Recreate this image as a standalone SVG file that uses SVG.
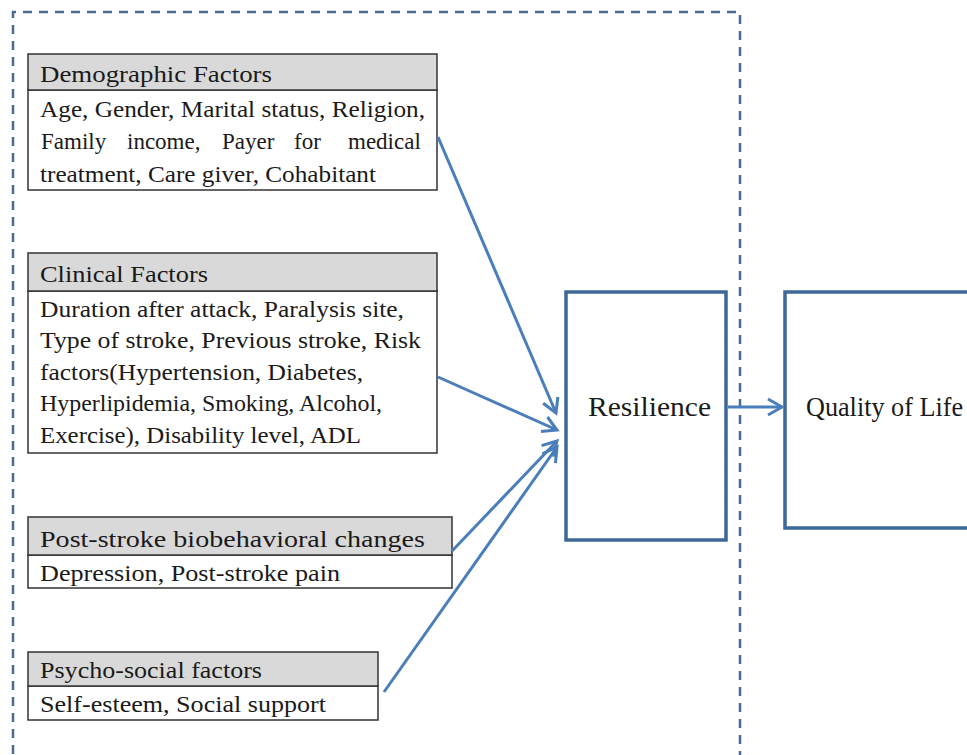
<svg xmlns="http://www.w3.org/2000/svg" width="967" height="755" viewBox="0 0 967 755">
<style>
.hdr{fill:#d9d9d9;stroke:#333;stroke-width:1.5}
.body{fill:#fff;stroke:#333;stroke-width:1.5}
.t{font-family:"Liberation Serif","DejaVu Serif",serif;font-size:23px;fill:#1a1a1a}
.big{font-family:"Liberation Serif","DejaVu Serif",serif;font-size:27px;fill:#1a1a1a}
.main{fill:#fff;stroke:#3f6797;stroke-width:3.5}
.conn{stroke:#4a7ebb;stroke-width:3;fill:none}
</style>
<defs>
<marker id="ah" markerUnits="userSpaceOnUse" markerWidth="20" markerHeight="20" viewBox="0 0 20 20" refX="17" refY="10" orient="auto">
<path d="M3,2 L17,10 L3,18" fill="none" stroke="#4a7ebb" stroke-width="3"/>
</marker>
</defs>
<rect width="967" height="755" fill="#fff"/>
<path d="M13,770 L13,12 L740,12 L740,770" fill="none" stroke="#4a6a94" stroke-width="2.5" stroke-dasharray="9 7"/>
<g id="demographic">
<rect class="body" x="28" y="90" width="409" height="100"/>
<rect class="hdr" x="28" y="54" width="409" height="36"/>
<text class="t" x="40" y="82" textLength="232" lengthAdjust="spacingAndGlyphs">Demographic Factors</text>
<text class="t" x="40" y="117" textLength="385" lengthAdjust="spacingAndGlyphs">Age, Gender, Marital status, Religion,</text>
<text class="t" y="149"><tspan x="41">Family</tspan><tspan x="127">income,</tspan><tspan x="222">Payer</tspan><tspan x="294">for</tspan><tspan x="348">medical</tspan></text>
<text class="t" x="40" y="182" textLength="336" lengthAdjust="spacingAndGlyphs">treatment, Care giver, Cohabitant</text>
</g>
<g id="clinical">
<rect class="body" x="28" y="291" width="409" height="162"/>
<rect class="hdr" x="28" y="253" width="409" height="38"/>
<text class="t" x="40" y="282" textLength="168" lengthAdjust="spacingAndGlyphs">Clinical Factors</text>
<text class="t" x="40" y="317" textLength="364" lengthAdjust="spacingAndGlyphs">Duration after attack, Paralysis site,</text>
<text class="t" x="40" y="348" textLength="381" lengthAdjust="spacingAndGlyphs">Type of stroke, Previous stroke, Risk</text>
<text class="t" x="40" y="380" textLength="323" lengthAdjust="spacingAndGlyphs">factors(Hypertension, Diabetes,</text>
<text class="t" x="40" y="411" textLength="342" lengthAdjust="spacingAndGlyphs">Hyperlipidemia, Smoking, Alcohol,</text>
<text class="t" x="40" y="443" textLength="321" lengthAdjust="spacingAndGlyphs">Exercise), Disability level, ADL</text>
</g>
<g id="poststroke">
<rect class="body" x="28" y="555" width="424" height="33"/>
<rect class="hdr" x="28" y="517" width="424" height="38"/>
<text class="t" x="40" y="547" textLength="385" lengthAdjust="spacingAndGlyphs">Post-stroke biobehavioral changes</text>
<text class="t" x="40" y="581" textLength="300" lengthAdjust="spacingAndGlyphs">Depression, Post-stroke pain</text>
</g>
<g id="psychosocial">
<rect class="body" x="28" y="686" width="350" height="34"/>
<rect class="hdr" x="28" y="652" width="350" height="34"/>
<text class="t" x="40" y="678" textLength="222" lengthAdjust="spacingAndGlyphs">Psycho-social factors</text>
<text class="t" x="40" y="712" textLength="286" lengthAdjust="spacingAndGlyphs">Self-esteem, Social support</text>
</g>
<g id="resilience">
<rect class="main" x="566" y="292" width="160" height="248"/>
<text class="big" x="588" y="416" textLength="123" lengthAdjust="spacingAndGlyphs">Resilience</text>
</g>
<g id="qol">
<rect class="main" x="785" y="292" width="200" height="236"/>
<text class="big" x="806" y="416" textLength="157" lengthAdjust="spacingAndGlyphs">Quality of Life</text>
</g>
<g id="connectors">
<line class="conn" x1="438" y1="137" x2="556" y2="413" marker-end="url(#ah)"/>
<line class="conn" x1="438" y1="377" x2="557" y2="430" marker-end="url(#ah)"/>
<line class="conn" x1="452" y1="551" x2="557" y2="441" marker-end="url(#ah)"/>
<line class="conn" x1="384" y1="692" x2="557" y2="447" marker-end="url(#ah)"/>
<line class="conn" x1="728" y1="407" x2="782" y2="407" marker-end="url(#ah)"/>
</g>
</svg>
